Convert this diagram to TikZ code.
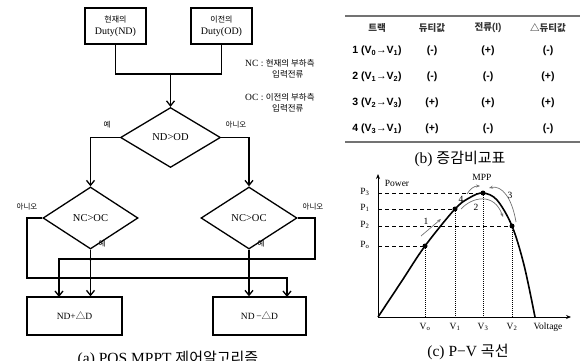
\documentclass[tikz,border=0pt]{standalone}
\usepackage{fontspec}
\setmainfont{Liberation Serif}
\setsansfont{Liberation Sans}
\newfontfamily\kr{Noto Sans CJK KR}
\usetikzlibrary{shapes.geometric,arrows.meta}
\begin{document}
\begin{tikzpicture}[x=1pt,y=-1pt,
  fbox/.style={draw,line width=1.3pt,inner sep=0pt,align=center,font=\fontsize{10}{12}\selectfont},
  dia/.style={draw,diamond,line width=1.3pt,inner sep=0pt,font=\fontsize{10.5}{12}\selectfont},
  flow/.style={line width=1.3pt},
  arr/.style={flow,-{Straight Barb[length=5pt,width=8pt,line width=1.3pt]}},
  klbl/.style={font=\kr\fontsize{7.5}{9}\selectfont,inner sep=0pt},
  jdot/.style={circle,fill,inner sep=0pt,minimum size=3.5pt},
  note/.style={font=\fontsize{9.5}{10.5}\selectfont,inner sep=0pt,align=left,anchor=west},
  tcell/.style={font=\sffamily\bfseries\fontsize{10.5}{12}\selectfont,inner sep=0pt},
  thead/.style={font=\kr\bfseries\fontsize{9.5}{11}\selectfont,inner sep=0pt,text=black!80},
  captxt/.style={inner sep=0pt,font=\fontsize{15.5}{18}\selectfont},
  ax/.style={line width=0.9pt},
  pcurve/.style={line width=1.6pt},
  hdash/.style={line width=1pt,dash pattern=on 4pt off 3pt},
  vdot/.style={line width=0.8pt,dash pattern=on 1pt off 1pt},
  pdot/.style={circle,fill,inner sep=0pt,minimum size=5pt},
  plbl/.style={inner sep=0pt,font=\fontsize{9.5}{11}\selectfont},
  garr/.style={draw=black!55,line width=0.7pt,-{Stealth[length=4pt,width=3pt,fill=black]}},
  ]
\useasboundingbox (0,0) rectangle (581,361);
\clip (0,0) rectangle (581,361);

% ---------------- (a) flowchart ----------------
\node[fbox,minimum width=61pt,minimum height=36pt] (b1) at (115.5,26) {{\kr\fontsize{8}{11}\selectfont 현재의}\\Duty(ND)};
\node[fbox,minimum width=61pt,minimum height=36pt] (b2) at (221.5,26) {{\kr\fontsize{8}{11}\selectfont 이전의}\\Duty(OD)};
\coordinate (m) at (170.5,74);
\draw[flow] (b1.south) |- (m);
\draw[flow] (b2.south) |- (m);

\node[note] (nc) at (245,63) {NC : {\kr\fontsize{8.5}{9}\selectfont 현재의 부하측}};
\node[note,anchor=west] (nc2) at (272,74) {\kr\fontsize{8.5}{9}\selectfont 입력전류};
\node[note] (oc) at (245,97) {OC : {\kr\fontsize{8.5}{9}\selectfont 이전의 부하측}};
\node[note,anchor=west] (oc2) at (272,108) {\kr\fontsize{8.5}{9}\selectfont 입력전류};

\node[dia,minimum width=100pt,minimum height=60pt] (d1) at (170.5,137.5) {ND>OD};
\draw[arr] (m) -- (d1.north);

\node[dia,minimum width=95pt,minimum height=62pt] (d2) at (90.5,218) {NC>OC};
\node[dia,minimum width=96pt,minimum height=62pt] (d3) at (249,218) {NC>OC};

\draw[arr] (d1.west) -| (d2.north);
\draw[arr] (d1.east) -| (d3.north);
\node[klbl] (y1) at (107,125) {예};
\node[klbl] (n1) at (236,125) {아니오};

\node[fbox,minimum width=95pt,minimum height=38pt,font=\fontsize{9.5}{11}\selectfont] (bL) at (74.5,316) {ND+{\kr△}D};
\node[fbox,minimum width=93pt,minimum height=38pt,font=\fontsize{9.5}{11}\selectfont] (bR) at (259.5,316) {ND{\,}−{\kr△}D};

\coordinate (nL) at (27,278);
\coordinate (nRt) at (287,297);
\coordinate (yR) at (315,259);
\coordinate (yLt) at (59,297);
\draw[arr] (d2.west) -| (nL) -| (nRt);
\draw[arr] (d3.east) -| (yR) -| (yLt);
\draw[arr] (d2.south) -- (d2.south |- bL.north);
\draw[arr] (d3.south) -- (d3.south |- bR.north);
\node[jdot] (j1) at (d2.south |- yR) {};
\node[jdot] (j2) at (d3.south |- yR) {};
\node[jdot] (j3) at (yLt |- nL) {};
\node[jdot] (j4) at (d3.south |- nL) {};

\node[klbl] (n2) at (27,207) {아니오};
\node[klbl] (n3) at (313,207) {아니오};
\node[klbl] (y2) at (102,244) {예};
\node[klbl] (y3) at (261,244) {예};

\node[captxt,anchor=base] (capa) at (168,363) {(a) POS MPPT {\kr\fontsize{15}{18}\selectfont 제어알고리즘}};

% ---------------- (b) table ----------------
\draw[draw=black!55,line width=1.2pt] (345,16) coordinate (t1) -- (580,16) coordinate (t2);
\draw[draw=black!55,line width=1.2pt] (345,142) coordinate (t3) -- (580,142) coordinate (t4);
\node[thead] (h1) at (377,28) {트랙};
\node[thead] (h2) at (432,28) {듀티값};
\node[thead] (h3) at (488,28) {전류{\sffamily\fontsize{10}{11}\selectfont (I)}};
\node[thead] (h4) at (548,28) {△듀티값};

\node[tcell] (r1a) at (377,51) {1 (V\textsubscript{0}→V\textsubscript{1})};
\node[tcell] (r1b) at (432,51) {(-)};
\node[tcell] (r1c) at (488,51) {(+)};
\node[tcell] (r1d) at (548,51) {(-)};
\node[tcell] (r2a) at (377,77) {2 (V\textsubscript{1}→V\textsubscript{2})};
\node[tcell] (r2b) at (432,77) {(-)};
\node[tcell] (r2c) at (488,77) {(-)};
\node[tcell] (r2d) at (548,77) {(+)};
\node[tcell] (r3a) at (377,103) {3 (V\textsubscript{2}→V\textsubscript{3})};
\node[tcell] (r3b) at (432,103) {(+)};
\node[tcell] (r3c) at (488,103) {(+)};
\node[tcell] (r3d) at (548,103) {(+)};
\node[tcell] (r4a) at (377,129) {4 (V\textsubscript{3}→V\textsubscript{1})};
\node[tcell] (r4b) at (432,129) {(+)};
\node[tcell] (r4c) at (488,129) {(-)};
\node[tcell] (r4d) at (548,129) {(-)};

\node[captxt] (capb) at (460,159) {(b) {\kr\fontsize{15}{18}\selectfont 증감비교표}};

% ---------------- (c) P-V curve ----------------
\coordinate (O) at (378,317);
\coordinate (ytop) at (378,174);
\coordinate (xend) at (571,317);
\draw[ax,-{Stealth[length=5pt,width=4pt]}] (O) -- (ytop);
\draw[ax,-{Stealth[length=5pt,width=4pt]}] (O) -- (xend);

\coordinate (Q0) at (425,246);
\coordinate (Q1) at (455,209);
\coordinate (Q3) at (483,193);
\coordinate (Q2) at (512,226);

\draw[hdash] (O |- Q3) -- (Q3);
\draw[hdash] (O |- Q1) -- (Q1);
\draw[hdash] (O |- Q2) -- (Q2);
\draw[hdash] (O |- Q0) -- (Q0);
\draw[vdot] (Q0) -- (Q0 |- O);
\draw[vdot] (Q1) -- (Q1 |- O);
\draw[vdot] (Q3) -- (Q3 |- O);
\draw[vdot] (Q2) -- (Q2 |- O);

\draw[pcurve] plot[smooth,tension=0.55] coordinates {(378,317) (401.5,281.5) (425,246) (455,209) (470,197.5) (483,193) (497,200) (512,226) (524,265) (535,317)};

\node[pdot] (q0) at (Q0) {};
\node[pdot] (q1) at (Q1) {};
\node[pdot] (q3) at (Q3) {};
\node[pdot] (q2) at (Q2) {};

\node[plbl] (lp3) at (365,192) {P\textsubscript{3}};
\node[plbl] (lp1) at (365,208) {P\textsubscript{1}};
\node[plbl] (lp2) at (365,225) {P\textsubscript{2}};
\node[plbl] (lp0) at (365,245) {P\textsubscript{o}};
\node[plbl] (lpow) at (397,183) {Power};
\node[plbl] (lmpp) at (482,177) {MPP};
\node[plbl] (lv0) at (425,327) {V\textsubscript{o}};
\node[plbl] (lv1) at (455,327) {V\textsubscript{1}};
\node[plbl] (lv3) at (483,327) {V\textsubscript{3}};
\node[plbl] (lv2) at (512,327) {V\textsubscript{2}};
\node[plbl] (lvol) at (548,327) {Voltage};

% grey motion arrows
\coordinate (g1s) at (421,236);
\coordinate (g1e) at (441,219);
\draw[garr] (g1s) -- (g1e);
\node[plbl] (l1) at (426,221) {1};
\coordinate (g2s) at (461,209);
\coordinate (g2e) at (503,217);
\draw[garr] (g2s) .. controls (472,197) and (494,192) .. (g2e);
\node[plbl] (l2) at (476,207) {2};
\coordinate (g3s) at (516,222);
\coordinate (g3e) at (489,188);
\draw[garr] (g3s) .. controls (512,198) and (502,185) .. (g3e);
\node[plbl] (l3) at (510,195) {3};
\coordinate (g4s) at (467,194);
\coordinate (g4e) at (480,186);
\draw[garr] (g4s) .. controls (470,189) and (474,186) .. (g4e);
\node[plbl] (l4) at (461,199) {4};

\node[captxt] (capc) at (468,352) {(c) P−V {\kr\fontsize{15}{18}\selectfont 곡선}};
\end{tikzpicture}
\end{document}
